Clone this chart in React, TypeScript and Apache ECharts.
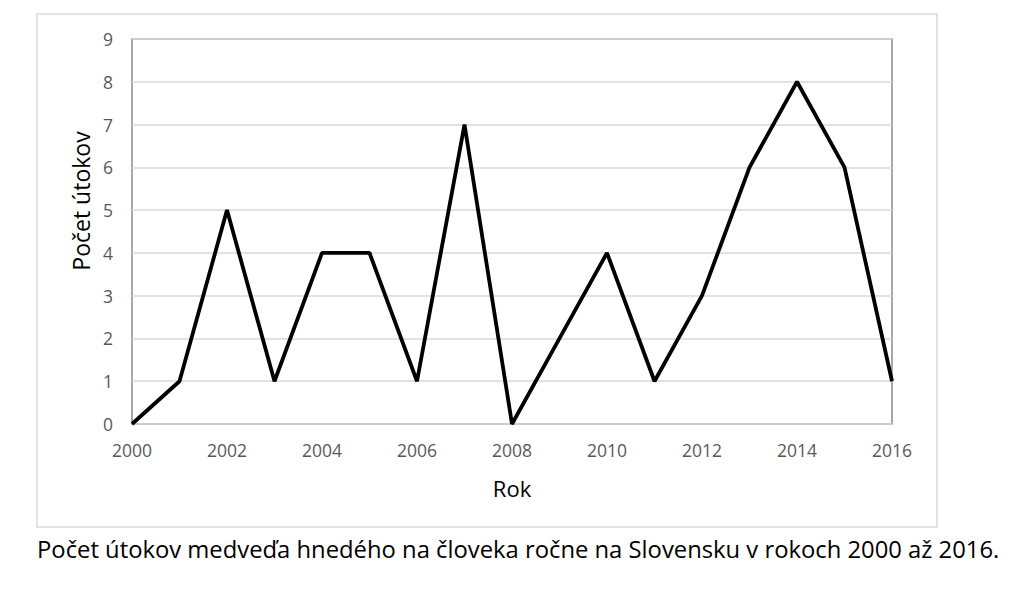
import React, { useEffect, useRef } from "react";
import * as echarts from "echarts";

const years = [2000, 2001, 2002, 2003, 2004, 2005, 2006, 2007, 2008, 2009, 2010, 2011, 2012, 2013, 2014, 2015, 2016];
const attacks = [0, 1, 5, 1, 4, 4, 1, 7, 0, 2, 4, 1, 3, 6, 8, 6, 1];
const xTitle = "Rok";
const yTitle = "Počet útokov";
const caption = "Počet útokov medveďa hnedého na človeka ročne na Slovensku v rokoch 2000 až 2016.";

export default function App() {
  const ref = useRef<HTMLDivElement>(null);
  useEffect(() => {
    if (!ref.current) return;
    const chart = echarts.init(ref.current, null, { renderer: "svg" });
    const font = "'Open Sans', 'Noto Sans', sans-serif";
    chart.setOption({
      animation: false,
      backgroundColor: "#ffffff",
      textStyle: { fontFamily: font },
      grid: { left: 132, top: 39, width: 760, height: 385, show: true, borderColor: "#8c8c8c", borderWidth: 1.5, backgroundColor: "transparent" },
      xAxis: {
        type: "value",
        min: 2000,
        max: 2016,
        interval: 2,
        axisLine: { show: false },
        axisTick: { show: false },
        splitLine: { show: false },
        axisLabel: { fontSize: 17.5, color: "#595959", margin: 17, formatter: (v: number) => String(v), fontFamily: font },
      },
      yAxis: {
        type: "value",
        min: 0,
        max: 9,
        interval: 1,
        axisLine: { show: false },
        axisTick: { show: false },
        splitLine: { lineStyle: { color: "#d9d9d9", width: 1.5 } },
        axisLabel: { fontSize: 17.5, color: "#595959", margin: 19, fontFamily: font },
      },
      series: [
        {
          type: "line",
          data: years.map((y, i) => [y, attacks[i]]),
          showSymbol: false,
          lineStyle: { color: "#000000", width: 3.8 },
        },
      ],
      graphic: [
        {
          type: "rect",
          shape: { x: 37, y: 14, width: 900, height: 513 },
          style: { fill: "none", stroke: "#d9d9d9", lineWidth: 1.5 },
          silent: true,
        },
        {
          type: "text",
          x: 512,
          y: 488,
          style: { text: xTitle, fontSize: 22, fill: "#000000", fontFamily: font, textAlign: "center", textVerticalAlign: "middle" },
        },
        {
          type: "text",
          x: 81,
          y: 201,
          rotation: Math.PI / 2,
          style: { text: yTitle, fontSize: 23, fill: "#000000", fontFamily: font, textAlign: "center", textVerticalAlign: "middle" },
        },
        {
          type: "text",
          x: 37,
          y: 549,
          style: { text: caption, fontSize: 23.8, fill: "#000000", fontFamily: font, textVerticalAlign: "middle" },
        },
      ],
    });
    return () => chart.dispose();
  }, []);
  return <div ref={ref} style={{ position: "fixed", left: 0, top: 0, width: 1024, height: 589 }} />;
}
